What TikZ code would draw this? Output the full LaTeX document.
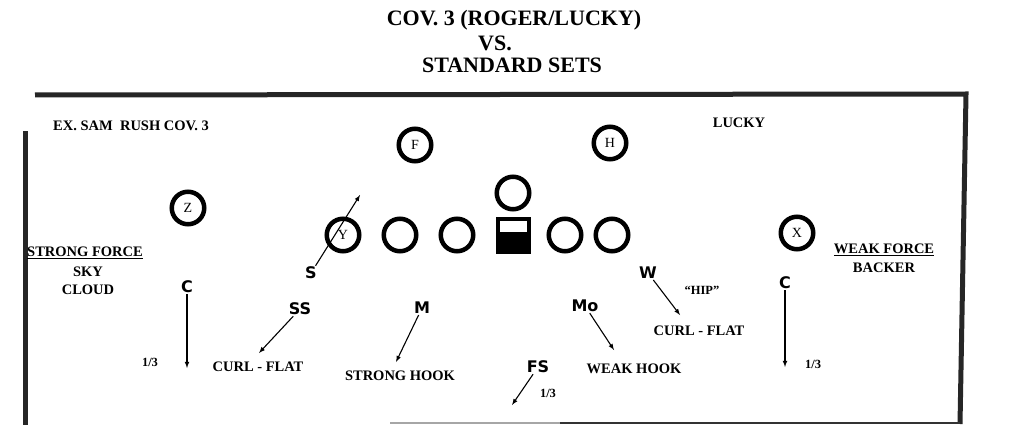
\documentclass[tikz,border=0pt]{standalone}
\usepackage{fontspec}
\setmainfont{Liberation Serif}
\newfontfamily\defsans{DejaVu Sans}
\usetikzlibrary{calc}

\tikzset{
  title/.style={font=\bfseries\fontsize{22}{24}\selectfont, inner sep=0pt},
  note/.style={font=\bfseries\fontsize{14.5}{16}\selectfont, inner sep=0pt},
  small/.style={font=\bfseries\fontsize{12.5}{14}\selectfont, inner sep=0pt},
  defender/.style={font=\defsans\bfseries\fontsize{16}{18}\selectfont, inner sep=1pt},
  player/.style={circle, draw, line width=4.5pt, minimum size=32.5pt, inner sep=0pt,
    font=\fontsize{14}{16}\selectfont},
  snapbox/.style={rectangle, draw, line width=4pt, fill=black, minimum width=31pt,
    minimum height=33pt, inner sep=0pt,
    path picture={\fill[white] ([shift={(2pt,-2pt)}]path picture bounding box.north west)
      rectangle ([shift={(-2pt,3pt)}]path picture bounding box.east);}},
  route/.style={->, line width=1.1pt},
  frame/.style={line width=5pt, black!85},
}

\begin{document}
\begin{tikzpicture}[x=1pt, y=-1pt, >=latex]
    \useasboundingbox (0,0) rectangle (1019,425);

    % Titel
    \node[title] (cov) at (514,20) {COV. 3 (ROGER/LUCKY)};
    \node[title] (vs) at (495,43) {VS.};
    \node[title] (sets) at (512,65) {STANDARD SETS};

    % Rahmen
    \draw[frame] (35,95) -- (966,94) -- (960,424);
    \draw[frame] (25,131) -- (25,425);
    \draw[line width=1.5pt, black!35] (390,423) -- (560,423);
    \draw[line width=2.5pt, black!80] (560,423) -- (960,423);

    % Beschriftungen
    \node[note, anchor=west] (exsam) at (53,126) {EX. SAM\ \ RUSH COV. 3};
    \node[note] (lucky) at (739,123) {LUCKY};
    \node[note, anchor=west] (strongforce) at (27,253) {\underline{STRONG FORCE}};
    \node[note] (sky) at (88,272) {SKY};
    \node[note] (cloud) at (88,290) {CLOUD};
    \node[note] (weakforce) at (884,250) {\underline{WEAK FORCE}};
    \node[note] (backer) at (884,268) {BACKER};

    % Angriff
    \node[player] (F) at (415,145) {F};
    \node[player] (H) at (610,143) {H};
    \node[player] (Z) at (188,208) {Z};
    \node[player] (X) at (797,233) {X};
    \node[player] (qb) at (513,193) {};
    \node[player] (Y) at (343,235) {Y};
    \node[player] (lt) at (400,235) {};
    \node[player] (lg) at (457,235) {};
    \node[snapbox] (ctr) at (513,235) {};
    \node[player] (rg) at (565,235) {};
    \node[player] (rt) at (612,235) {};

    % Abwehr
    \node[defender] (S) at (311,273) {S};
    \node[defender] (SS) at (300,309) {SS};
    \node[defender] (M) at (422,308) {M};
    \node[defender] (Mo) at (585,306) {Mo};
    \node[defender] (W) at (648,273) {W};
    \node[defender] (FS) at (538,367) {FS};
    \node[defender] (cl) at (187,287) {C};
    \node[defender] (cr) at (785,283) {C};

    % Zonen
    \node[note] (curlL) at (258,367) {CURL - FLAT};
    \node[note] (stronghook) at (400,376) {STRONG HOOK};
    \node[note] (weakhook) at (634,369) {WEAK HOOK};
    \node[note] (curlR) at (699,331) {CURL - FLAT};
    \node[small] (hip) at (702,290) {“HIP”};
    \node[small] (thirdL) at (150,362) {1/3};
    \node[small] (thirdR) at (813,364) {1/3};
    \node[small] (thirdFS) at (548,393) {1/3};

    % Laufwege
    \coordinate (sTip) at (360,195);
    \coordinate (ssTip) at (259,353);
    \coordinate (mTip) at (396,362);
    \coordinate (moTip) at (614,350);
    \coordinate (wTip) at (680,315);
    \coordinate (fsTip) at (512,405);
    \coordinate (clTip) at (187,368);
    \coordinate (crTip) at (785,367);

    \draw[route] (S) -- (sTip);
    \draw[route] (SS) -- (ssTip);
    \draw[route] (M) -- (mTip);
    \draw[route] (Mo) -- (moTip);
    \draw[route] (W) -- (wTip);
    \draw[route] (FS) -- (fsTip);
    \draw[route] (cl) -- (clTip);
    \draw[route] (cr) -- (crTip);

\end{tikzpicture}
\end{document}
